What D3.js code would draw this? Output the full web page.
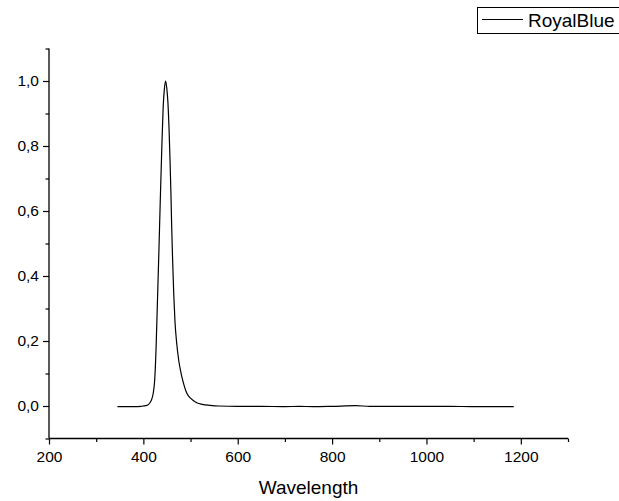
<!DOCTYPE html>
<html><head><meta charset="utf-8">
<script src="https://cdn.jsdelivr.net/npm/d3@7"></script>
<style>
html,body{margin:0;padding:0;background:#fff;}
svg{display:block;}
text{font-family:Arial,"Liberation Sans",sans-serif;fill:#000;}
</style></head>
<body><svg id="c" width="619" height="501"></svg>
<script>
const seriesName = "RoyalBlue";
const wavelength = [345,360,380,395,405,410,414,418,421,424,427,430,433,436,439,442,444.5,447,449.5,452,454.5,456.5,458.5,460,462,464.3,467,470.6,475,481.3,486,491.9,500,513,525,541,560,600,650,700,730,760,800,850,880,950,1000,1050,1100,1150,1185];
const intensity  = [-0.002,-0.002,-0.002,-0.001,0.001,0.004,0.01,0.022,0.04,0.08,0.18,0.33,0.48,0.64,0.79,0.92,0.975,1.0,0.98,0.935,0.85,0.758,0.65,0.553,0.45,0.348,0.26,0.194,0.14,0.092,0.065,0.04,0.024,0.01,0.005,0.002,0.0,-0.001,-0.001,-0.002,-0.001,-0.002,-0.001,0.001,-0.001,-0.001,-0.001,-0.001,-0.002,-0.002,-0.002];
const xMajor = [200,400,600,800,1000,1200];
const xMinor = [300,500,700,900,1100,1300];
const yMajor = [0.0,0.2,0.4,0.6,0.8,1.0];
const yMinor = [-0.1,0.1,0.3,0.5,0.7,0.9,1.1];
const xTitle = "Wavelength";

const svg = d3.select("#c");
const x = d3.scaleLinear().domain([200,1300]).range([49,568]);
const y = d3.scaleLinear().domain([-0.1,1.1]).range([438.5,48.5]);
const fmt = d => d3.format(".1f")(d).replace(".", ",");

// X axis
const gx = svg.append("g").attr("transform",`translate(0,${y(-0.1)})`);
gx.call(d3.axisBottom(x).tickValues(xMajor).tickSize(6).tickPadding(6).tickFormat(d3.format("d")));
const gxm = svg.append("g").attr("transform",`translate(0,${y(-0.1)})`);
gxm.call(d3.axisBottom(x).tickValues(xMinor).tickSize(3.5).tickFormat(""));
// Y axis
const gy = svg.append("g").attr("transform",`translate(${x(200)},0)`);
gy.call(d3.axisLeft(y).tickValues(yMajor).tickSize(6).tickPadding(4).tickFormat(fmt));
const gym = svg.append("g").attr("transform",`translate(${x(200)},0)`);
gym.call(d3.axisLeft(y).tickValues(yMinor).tickSize(3.5).tickFormat(""));

svg.selectAll(".domain").attr("stroke","#000").attr("stroke-width",1.3);
svg.selectAll(".tick line").attr("stroke","#000").attr("stroke-width",1.2);
svg.selectAll(".tick text").style("font-size","15.5px").style("font-family","Arial, 'Liberation Sans', sans-serif");
gxm.select(".domain").remove(); gym.select(".domain").remove();
gx.select(".domain").attr("d",`M${x(200)},0H${x(1300)}`);
gy.select(".domain").attr("d",`M0,${y(1.1)}V${y(-0.1)}`);

svg.append("text").attr("x",(x(200)+x(1300))/2).attr("y",494).attr("text-anchor","middle")
  .style("font-size","19px").text(xTitle);

// line
const data = wavelength.map((w,i)=>({w, v: intensity[i]}));
svg.append("path").datum(data)
  .attr("fill","none").attr("stroke","#000").attr("stroke-width",1.2)
  .attr("d", d3.line().x(d=>x(d.w)).y(d=>y(d.v)).curve(d3.curveMonotoneX));

// legend
const lg = svg.append("g");
lg.append("rect").attr("x",477.5).attr("y",7.5).attr("width",150).attr("height",26)
  .attr("fill","#fff").attr("stroke","#000").attr("stroke-width",1);
lg.append("line").attr("x1",482).attr("x2",523).attr("y1",19.5).attr("y2",19.5).attr("stroke","#000").attr("stroke-width",1);
lg.append("text").attr("x",528).attr("y",27).style("font-size","19px").text(seriesName);
</script></body></html>
